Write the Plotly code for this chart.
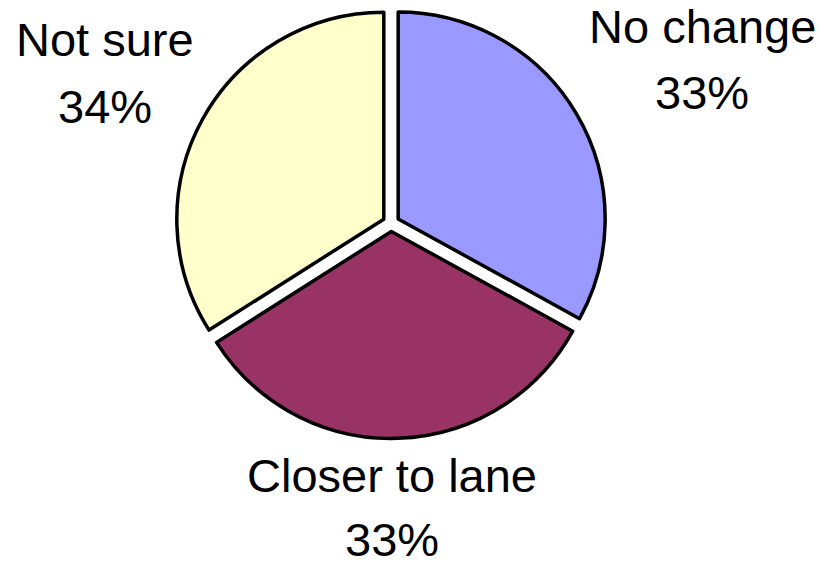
import plotly.graph_objects as go

labels = ["No change", "Closer to lane", "Not sure"]
values = [33, 33, 34]
colors = ["#9999FF", "#993366", "#FFFFCC"]
pct_text = ["33%", "33%", "34%"]

# label anchor positions (paper coords) for the outside labels
label_x = [0.851, 0.475, 0.127]
label_y_name = [0.953, 0.158, 0.930]
label_y_pct = [0.837, 0.046, 0.812]

fig = go.Figure()
fig.add_trace(go.Pie(
    labels=labels,
    values=values,
    sort=False,
    direction="clockwise",
    rotation=0,
    pull=[0.04, 0.04, 0.04],
    marker=dict(colors=colors, line=dict(color="#000000", width=3.5)),
    textinfo="none",
    hoverinfo="label+percent",
    showlegend=False,
    domain=dict(x=[0.213, 0.735], y=[0.224, 0.986]),
))

font = dict(family="Liberation Sans, Arial, sans-serif", size=47, color="#000000")
for i in range(len(labels)):
    fig.add_annotation(x=label_x[i], y=label_y_name[i], xref="paper", yref="paper",
                       text=labels[i], showarrow=False, font=font,
                       xanchor="center", yanchor="middle")
    fig.add_annotation(x=label_x[i], y=label_y_pct[i], xref="paper", yref="paper",
                       text=pct_text[i], showarrow=False, font=font,
                       xanchor="center", yanchor="middle")

fig.update_layout(
    width=825, height=565,
    margin=dict(l=0, r=0, t=0, b=0),
    paper_bgcolor="#FFFFFF",
    plot_bgcolor="#FFFFFF",
)
fig.write_html("out.html")
